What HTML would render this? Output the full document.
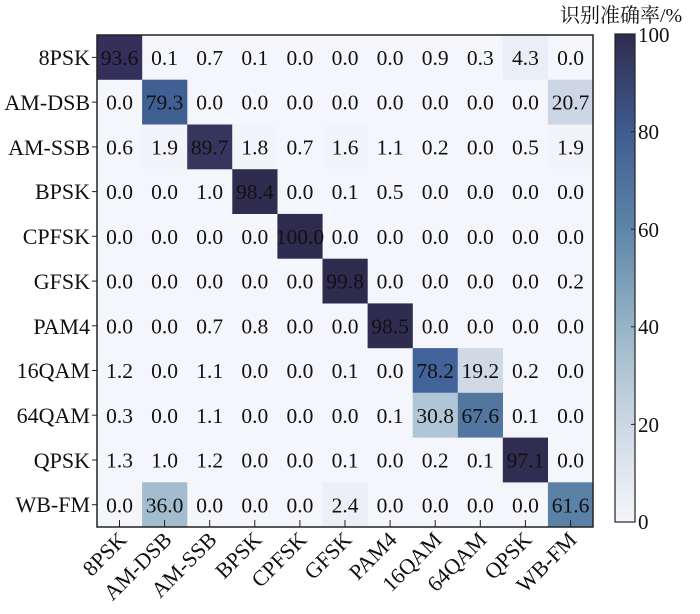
<!DOCTYPE html>
<html><head><meta charset="utf-8"><style>
body{margin:0;background:#fff}
svg text{font-family:"Liberation Serif","Noto Serif CJK SC",serif;fill:#111}
</style></head><body>
<svg width="700" height="609" viewBox="0 0 700 609" xmlns="http://www.w3.org/2000/svg">
<defs>
<linearGradient id="cb" x1="0" y1="1" x2="0" y2="0">
<stop offset="0" stop-color="#f5f6fb"/>
<stop offset="0.2" stop-color="#cdd7e4"/>
<stop offset="0.36" stop-color="#a2bdcd"/>
<stop offset="0.6" stop-color="#5e85a8"/>
<stop offset="0.8" stop-color="#405c90"/>
<stop offset="1" stop-color="#2f2b4e"/>
</linearGradient>
</defs>
<rect x="97" y="35" width="496" height="492" fill="#f5f6fb"/>
<g>
<rect x="97" y="35" width="45.2" height="44.8" fill="#352f5c"/>
<rect x="502.8" y="35" width="45.2" height="44.8" fill="#eaeef6"/>
<rect x="142.1" y="79.7" width="45.2" height="44.8" fill="#405f92"/>
<rect x="547.9" y="79.7" width="45.2" height="44.8" fill="#ccd6e4"/>
<rect x="142.1" y="124.5" width="45.2" height="44.8" fill="#f2f4f9"/>
<rect x="187.2" y="124.5" width="45.2" height="44.8" fill="#36355e"/>
<rect x="232.3" y="124.5" width="45.2" height="44.8" fill="#f2f4f9"/>
<rect x="322.5" y="124.5" width="45.2" height="44.8" fill="#f2f4f9"/>
<rect x="547.9" y="124.5" width="45.2" height="44.8" fill="#f2f4f9"/>
<rect x="232.3" y="169.2" width="45.2" height="44.8" fill="#302c50"/>
<rect x="277.4" y="213.9" width="45.2" height="44.8" fill="#2f2b4e"/>
<rect x="322.5" y="258.7" width="45.2" height="44.8" fill="#2f2b4e"/>
<rect x="367.6" y="303.4" width="45.2" height="44.8" fill="#302c50"/>
<rect x="412.7" y="348.1" width="45.2" height="44.8" fill="#42629a"/>
<rect x="457.8" y="348.1" width="45.2" height="44.8" fill="#d0d9e6"/>
<rect x="412.7" y="392.8" width="45.2" height="44.8" fill="#b0c6d6"/>
<rect x="457.8" y="392.8" width="45.2" height="44.8" fill="#52769f"/>
<rect x="502.8" y="437.6" width="45.2" height="44.8" fill="#312d52"/>
<rect x="142.1" y="482.3" width="45.2" height="44.7" fill="#a2bdcd"/>
<rect x="322.5" y="482.3" width="45.2" height="44.7" fill="#eceff6"/>
<rect x="547.9" y="482.3" width="45.2" height="44.7" fill="#5b82a6"/>
</g>
<rect x="97" y="35" width="496" height="492" fill="none" stroke="#222" stroke-width="1.5"/>
<g stroke="#222" stroke-width="1">
<line x1="92" y1="57.4" x2="97" y2="57.4"/><line x1="92" y1="102.1" x2="97" y2="102.1"/><line x1="92" y1="146.9" x2="97" y2="146.9"/><line x1="92" y1="191.6" x2="97" y2="191.6"/><line x1="92" y1="236.3" x2="97" y2="236.3"/><line x1="92" y1="281.1" x2="97" y2="281.1"/><line x1="92" y1="325.8" x2="97" y2="325.8"/><line x1="92" y1="370.5" x2="97" y2="370.5"/><line x1="92" y1="415.2" x2="97" y2="415.2"/><line x1="92" y1="460" x2="97" y2="460"/><line x1="92" y1="504.7" x2="97" y2="504.7"/>
<line x1="119.5" y1="527" x2="119.5" y2="520"/><line x1="164.6" y1="527" x2="164.6" y2="520"/><line x1="209.7" y1="527" x2="209.7" y2="520"/><line x1="254.8" y1="527" x2="254.8" y2="520"/><line x1="299.9" y1="527" x2="299.9" y2="520"/><line x1="345" y1="527" x2="345" y2="520"/><line x1="390.1" y1="527" x2="390.1" y2="520"/><line x1="435.2" y1="527" x2="435.2" y2="520"/><line x1="480.3" y1="527" x2="480.3" y2="520"/><line x1="525.4" y1="527" x2="525.4" y2="520"/><line x1="570.5" y1="527" x2="570.5" y2="520"/>
</g>
<g font-size="21.5" text-anchor="middle">
<g transform="translate(0,65)"><text x="119.5">93.6</text><text x="164.6">0.1</text><text x="209.7">0.7</text><text x="254.8">0.1</text><text x="299.9">0.0</text><text x="345">0.0</text><text x="390.1">0.0</text><text x="435.2">0.9</text><text x="480.3">0.3</text><text x="525.4">4.3</text><text x="570.5">0.0</text></g>
<g transform="translate(0,109.7)"><text x="119.5">0.0</text><text x="164.6">79.3</text><text x="209.7">0.0</text><text x="254.8">0.0</text><text x="299.9">0.0</text><text x="345">0.0</text><text x="390.1">0.0</text><text x="435.2">0.0</text><text x="480.3">0.0</text><text x="525.4">0.0</text><text x="570.5">20.7</text></g>
<g transform="translate(0,154.5)"><text x="119.5">0.6</text><text x="164.6">1.9</text><text x="209.7">89.7</text><text x="254.8">1.8</text><text x="299.9">0.7</text><text x="345">1.6</text><text x="390.1">1.1</text><text x="435.2">0.2</text><text x="480.3">0.0</text><text x="525.4">0.5</text><text x="570.5">1.9</text></g>
<g transform="translate(0,199.2)"><text x="119.5">0.0</text><text x="164.6">0.0</text><text x="209.7">1.0</text><text x="254.8">98.4</text><text x="299.9">0.0</text><text x="345">0.1</text><text x="390.1">0.5</text><text x="435.2">0.0</text><text x="480.3">0.0</text><text x="525.4">0.0</text><text x="570.5">0.0</text></g>
<g transform="translate(0,243.9)"><text x="119.5">0.0</text><text x="164.6">0.0</text><text x="209.7">0.0</text><text x="254.8">0.0</text><text x="299.9">100.0</text><text x="345">0.0</text><text x="390.1">0.0</text><text x="435.2">0.0</text><text x="480.3">0.0</text><text x="525.4">0.0</text><text x="570.5">0.0</text></g>
<g transform="translate(0,288.7)"><text x="119.5">0.0</text><text x="164.6">0.0</text><text x="209.7">0.0</text><text x="254.8">0.0</text><text x="299.9">0.0</text><text x="345">99.8</text><text x="390.1">0.0</text><text x="435.2">0.0</text><text x="480.3">0.0</text><text x="525.4">0.0</text><text x="570.5">0.2</text></g>
<g transform="translate(0,333.4)"><text x="119.5">0.0</text><text x="164.6">0.0</text><text x="209.7">0.7</text><text x="254.8">0.8</text><text x="299.9">0.0</text><text x="345">0.0</text><text x="390.1">98.5</text><text x="435.2">0.0</text><text x="480.3">0.0</text><text x="525.4">0.0</text><text x="570.5">0.0</text></g>
<g transform="translate(0,378.1)"><text x="119.5">1.2</text><text x="164.6">0.0</text><text x="209.7">1.1</text><text x="254.8">0.0</text><text x="299.9">0.0</text><text x="345">0.1</text><text x="390.1">0.0</text><text x="435.2">78.2</text><text x="480.3">19.2</text><text x="525.4">0.2</text><text x="570.5">0.0</text></g>
<g transform="translate(0,422.8)"><text x="119.5">0.3</text><text x="164.6">0.0</text><text x="209.7">1.1</text><text x="254.8">0.0</text><text x="299.9">0.0</text><text x="345">0.0</text><text x="390.1">0.1</text><text x="435.2">30.8</text><text x="480.3">67.6</text><text x="525.4">0.1</text><text x="570.5">0.0</text></g>
<g transform="translate(0,467.6)"><text x="119.5">1.3</text><text x="164.6">1.0</text><text x="209.7">1.2</text><text x="254.8">0.0</text><text x="299.9">0.0</text><text x="345">0.1</text><text x="390.1">0.0</text><text x="435.2">0.2</text><text x="480.3">0.1</text><text x="525.4">97.1</text><text x="570.5">0.0</text></g>
<g transform="translate(0,512.3)"><text x="119.5">0.0</text><text x="164.6">36.0</text><text x="209.7">0.0</text><text x="254.8">0.0</text><text x="299.9">0.0</text><text x="345">2.4</text><text x="390.1">0.0</text><text x="435.2">0.0</text><text x="480.3">0.0</text><text x="525.4">0.0</text><text x="570.5">61.6</text></g>
</g>
<g font-size="22" text-anchor="end">
<text x="90" y="65">8PSK</text><text x="90" y="110">AM-DSB</text><text x="90" y="155">AM-SSB</text><text x="90" y="199">BPSK</text><text x="90" y="244">CPFSK</text><text x="90" y="289">GFSK</text><text x="90" y="334">PAM4</text><text x="90" y="378">16QAM</text><text x="90" y="423">64QAM</text><text x="90" y="468">QPSK</text><text x="90" y="512">WB-FM</text>
</g>
<g font-size="22" text-anchor="end">
<text transform="translate(128,541) rotate(-45)">8PSK</text>
<text transform="translate(173,541) rotate(-45)">AM-DSB</text>
<text transform="translate(218,541) rotate(-45)">AM-SSB</text>
<text transform="translate(263,541) rotate(-45)">BPSK</text>
<text transform="translate(308,541) rotate(-45)">CPFSK</text>
<text transform="translate(353,541) rotate(-45)">GFSK</text>
<text transform="translate(398,541) rotate(-45)">PAM4</text>
<text transform="translate(443,541) rotate(-45)">16QAM</text>
<text transform="translate(488,541) rotate(-45)">64QAM</text>
<text transform="translate(533,541) rotate(-45)">QPSK</text>
<text transform="translate(578,541) rotate(-45)">WB-FM</text>
</g>
<rect x="615" y="34" width="20" height="488" fill="url(#cb)" stroke="#222" stroke-width="1.2"/>
<g stroke="#222" stroke-width="1">
<line x1="631" y1="131.6" x2="635" y2="131.6"/><line x1="631" y1="229.2" x2="635" y2="229.2"/><line x1="631" y1="326.8" x2="635" y2="326.8"/><line x1="631" y1="424.4" x2="635" y2="424.4"/>
</g>
<g font-size="21">
<text x="638" y="42">100</text><text x="638" y="139">80</text><text x="638" y="237">60</text><text x="638" y="334">40</text><text x="638" y="432">20</text><text x="638" y="529">0</text>
</g>
<text x="560" y="22" font-size="20">识别准确率/%</text>
</svg>
</body></html>
